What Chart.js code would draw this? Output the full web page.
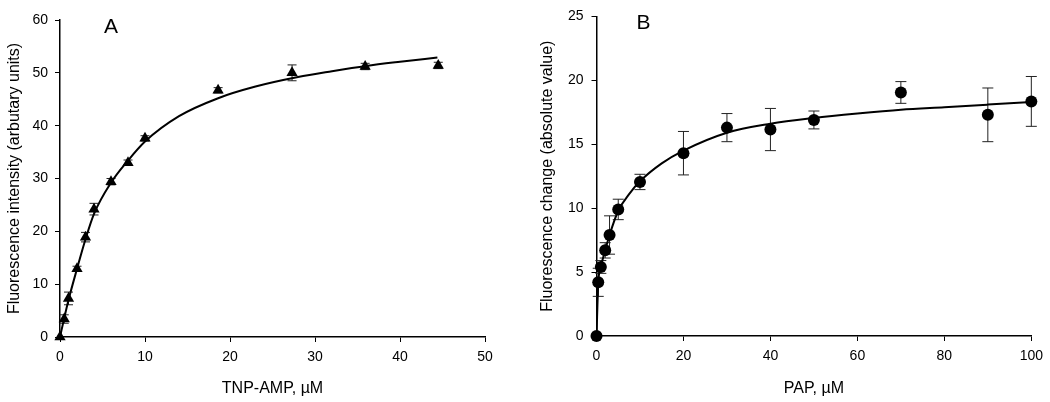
<!DOCTYPE html>
<html>
<head>
<meta charset="utf-8">
<script src="https://cdn.jsdelivr.net/npm/chart.js@4.4.0/dist/chart.umd.min.js"></script>
<style>
  body { margin: 0; background: #fff; }
  #wrapA { position: absolute; left: 0; top: 0; width: 520px; height: 402px; }
  #wrapB { position: absolute; left: 520px; top: 0; width: 530px; height: 402px; }
</style>
</head>
<body>
<div id="wrapA"><canvas id="chartA" width="520" height="402"></canvas></div>
<div id="wrapB"><canvas id="chartB" width="530" height="402"></canvas></div>
<script>
// panel A - TNP-AMP binding
var tnpConc  = [0, 0.5, 1, 2, 3, 4, 6, 8, 10, 18.6, 27.3, 35.9, 44.5];
var tnpFluor = [0, 3.4, 7.3, 12.9, 18.9, 24.2, 29.4, 33.0, 37.6, 46.7, 50.0, 51.2, 51.4];
var tnpErr   = [0, 0.8, 1.2, 0.5, 0.9, 1.1, 0.6, 0.5, 0.5, 0.5, 1.5, 0.6, 0.6];
var tnpFitX  = [0, 0.5, 1, 2, 3, 4, 6, 8, 10, 14, 18.6, 23, 28, 32, 36, 40, 44.4];
var tnpFitY  = [0, 3.6, 7.0, 12.9, 18.5, 23.3, 29.2, 33.4, 37.0, 41.8, 45.2, 47.4, 49.2, 50.3, 51.3, 52.1, 52.9];
var tnpXTicks = [0, 10, 20, 30, 40, 50];
var tnpYTicks = [0, 10, 20, 30, 40, 50, 60];

// panel B - PAP
var papConc  = [0, 0.4, 1, 2, 3, 5, 10, 20, 30, 40, 50, 70, 90, 100];
var papFluor = [0, 4.2, 5.4, 6.7, 7.9, 9.9, 12.05, 14.3, 16.3, 16.15, 16.9, 19.05, 17.3, 18.35];
var papErr   = [0, 1.1, 0.5, 0.6, 1.5, 0.8, 0.6, 1.7, 1.1, 1.65, 0.7, 0.85, 2.1, 1.95];
var papFitX  = [0, 0.4, 1, 2, 3, 5, 7.5, 10, 15, 20, 30, 40, 50, 60, 70, 80, 90, 100];
var papFitY  = [0, 4.1, 5.4, 6.7, 7.9, 9.8, 11.1, 12.1, 13.5, 14.5, 15.9, 16.6, 17.05, 17.4, 17.7, 17.9, 18.1, 18.3];
var papXTicks = [0, 20, 40, 60, 80, 100];
var papYTicks = [0, 5, 10, 15, 20, 25];

function pts(xs, ys) {
  return xs.map(function(x, i) { return {x: x, y: ys[i]}; });
}

var FONT = "'Liberation Sans', Arial, sans-serif";

// error bars, drawn under the markers
var errorBars = {
  id: 'errorBars',
  beforeDatasetsDraw: function(chart) {
    var ctx = chart.ctx;
    var xs = chart.scales.x, ys = chart.scales.y;
    chart.data.datasets.forEach(function(ds) {
      if (!ds.errors) return;
      ctx.save();
      ctx.strokeStyle = '#222';
      ctx.lineWidth = 1;
      ds.data.forEach(function(p, i) {
        var e = ds.errors[i];
        if (!e) return;
        var px = xs.getPixelForValue(p.x);
        var top = ys.getPixelForValue(p.y + e);
        var bot = ys.getPixelForValue(p.y - e);
        var w = ds.capHalf;
        ctx.beginPath();
        ctx.moveTo(px, top); ctx.lineTo(px, bot);
        ctx.moveTo(px - w, top); ctx.lineTo(px + w, top);
        ctx.moveTo(px - w, bot); ctx.lineTo(px + w, bot);
        ctx.stroke();
      });
      ctx.restore();
    });
  }
};

// panel letter, placed in data units
var panelLetter = {
  id: 'panelLetter',
  afterDraw: function(chart, args, opts) {
    var ctx = chart.ctx;
    ctx.save();
    ctx.font = '21px ' + FONT;
    ctx.fillStyle = '#000';
    ctx.textAlign = 'center';
    ctx.textBaseline = 'middle';
    ctx.fillText(opts.text, chart.scales.x.getPixelForValue(opts.x), chart.scales.y.getPixelForValue(opts.y));
    ctx.restore();
  }
};

function axis(min, max, step, title, tickPad, titlePad, fitSize, isY) {
  return {
    type: 'linear',
    min: min, max: max,
    border: { display: true, color: '#000', width: 1.5 },
    grid: { drawOnChartArea: false, drawTicks: true, tickLength: 5, color: '#000', lineWidth: 1 },
    ticks: { stepSize: step, color: '#000', padding: tickPad, font: { family: FONT, size: 14 } },
    title: { display: true, text: title, color: '#000', padding: titlePad, font: { family: FONT, size: 16 } },
    afterFit: function(s) { if (isY) s.width = fitSize; else s.height = fitSize; }
  };
}

var ctxA = document.getElementById('chartA');
var chartA = new Chart(ctxA, {
  type: 'scatter',
  data: {
    datasets: [{
      data: pts(tnpFitX, tnpFitY),
      showLine: true,
      borderColor: '#000',
      borderWidth: 2,
      pointRadius: 0,
      cubicInterpolationMode: 'monotone',
      fill: false
    }, {
      data: pts(tnpConc, tnpFluor),
      errors: tnpErr,
      capHalf: 4.5,
      showLine: false,
      clip: false,
      pointStyle: 'triangle',
      pointRadius: 6.5,
      backgroundColor: '#000',
      borderColor: '#000',
      borderWidth: 0
    }]
  },
  options: {
    responsive: false,
    animation: false,
    layout: { padding: { left: 0, right: 35, top: 20, bottom: 0 } },
    plugins: {
      legend: { display: false },
      tooltip: { enabled: false },
      panelLetter: { text: 'A', x: 6.0, y: 58.6 }
    },
    scales: {
      x: axis(0, 50, 10, 'TNP-AMP, \u00b5M', 7, { top: 0, bottom: 4 }, 65, false),
      y: axis(0, 60, 10, 'Fluorescence intensity (arbutary units)', 7, { top: 5, bottom: 0 }, 60, true)
    }
  },
  plugins: [errorBars, panelLetter]
});

var ctxB = document.getElementById('chartB');
var chartB = new Chart(ctxB, {
  type: 'scatter',
  data: {
    datasets: [{
      data: pts(papFitX, papFitY),
      showLine: true,
      borderColor: '#000',
      borderWidth: 2,
      pointRadius: 0,
      cubicInterpolationMode: 'monotone',
      fill: false
    }, {
      data: pts(papConc, papFluor),
      errors: papErr,
      capHalf: 5.5,
      showLine: false,
      clip: false,
      pointStyle: 'circle',
      pointRadius: 6,
      backgroundColor: '#000',
      borderColor: '#000',
      borderWidth: 0
    }]
  },
  options: {
    responsive: false,
    animation: false,
    layout: { padding: { left: 0, right: 17, top: 11, bottom: 0 } },
    plugins: {
      legend: { display: false },
      tooltip: { enabled: false },
      panelLetter: { text: 'B', x: 10.8, y: 24.5 }
    },
    scales: {
      x: axis(0, 100, 20, 'PAP, \u00b5M', 7, { top: 0, bottom: 4 }, 66, false),
      y: axis(0, 25, 5, 'Fluorescence change (absolute value)', 8, { top: 18, bottom: 0 }, 76.5, true)
    }
  },
  plugins: [errorBars, panelLetter]
});
</script>
</body>
</html>
